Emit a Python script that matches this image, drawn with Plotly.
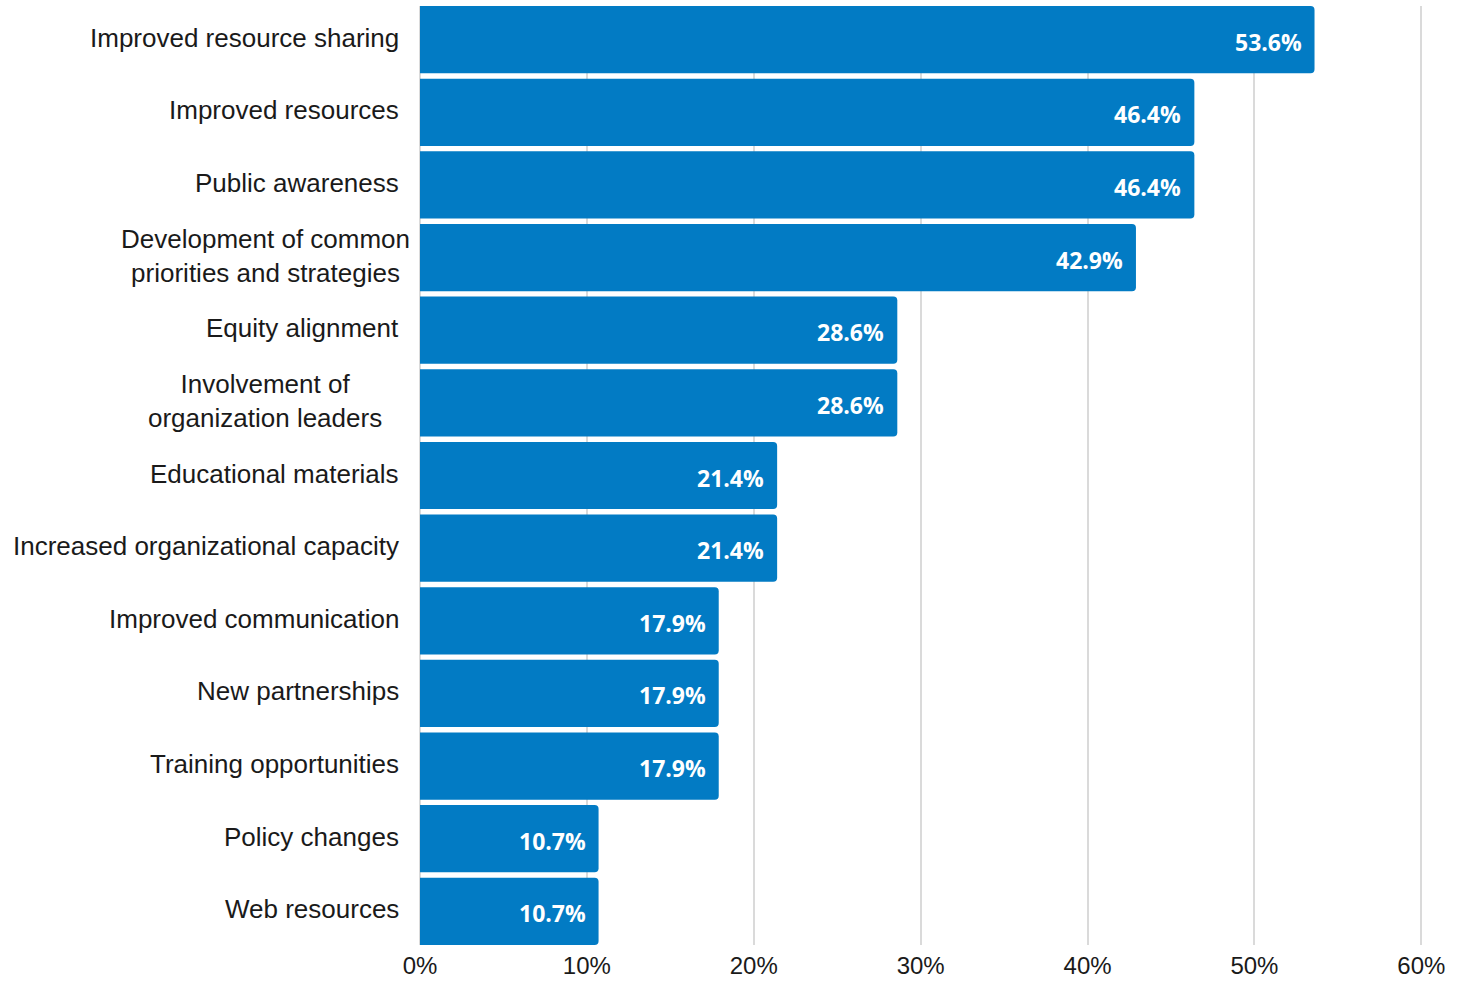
import plotly.graph_objects as go

# Survey results: share of respondents selecting each outcome
categories = [
    "Improved resource sharing",
    "Improved resources",
    "Public awareness",
    "Development of common<br>priorities and strategies",
    "Equity alignment",
    "Involvement of<br>organization leaders",
    "Educational materials",
    "Increased organizational capacity",
    "Improved communication",
    "New partnerships",
    "Training opportunities",
    "Policy changes",
    "Web resources",
]
values = [53.6, 46.4, 46.4, 42.9, 28.6, 28.6, 21.4, 21.4, 17.9, 17.9, 17.9, 10.7, 10.7]
tick_vals = [0, 10, 20, 30, 40, 50, 60]
tick_text = ["0%", "10%", "20%", "30%", "40%", "50%", "60%"]

BAR_COLOR = "#027bc4"
GRID_COLOR = "#dadada"
TEXT_COLOR = "#1a1a1a"
LABEL_FONT = "Liberation Sans, Arial, sans-serif"

fig = go.Figure(
    go.Bar(
        x=values,
        y=list(range(len(categories))),
        orientation="h",
        marker=dict(color=BAR_COLOR, line=dict(width=0)),
        hoverinfo="skip",
    )
)

annotations = []
# Category labels to the left of the plot; wrapped labels are centred
for i, cat in enumerate(categories):
    wrapped = "<br>" in cat
    annotations.append(dict(
        x=0, xref="paper", y=i, yref="y", text=cat, showarrow=False,
        xanchor="center" if wrapped else "right", yanchor="middle",
        align="center" if wrapped else "right",
        xshift=-155 if wrapped else -19, yshift=2,
        font=dict(family=LABEL_FONT, size=26, color=TEXT_COLOR),
    ))

# Value labels inside the end of each bar
for i, v in enumerate(values):
    annotations.append(dict(
        x=v, xref="x", y=i, yref="y", text=f"{v:.1f}%", showarrow=False,
        xanchor="right", yanchor="middle", xshift=-11, yshift=-2,
        font=dict(family="Open Sans, sans-serif", size=23, color="white", weight="bold"),
    ))

fig.update_layout(
    width=1464,
    height=982,
    margin=dict(l=420, r=41, t=6, b=37, autoexpand=False),
    paper_bgcolor="white",
    plot_bgcolor="white",
    bargap=0.075,
    barcornerradius=4,
    showlegend=False,
    annotations=annotations,
    xaxis=dict(
        range=[0, 60.1],
        tickvals=tick_vals,
        ticktext=tick_text,
        showgrid=True,
        gridcolor=GRID_COLOR,
        gridwidth=2,
        zeroline=True,
        zerolinecolor=GRID_COLOR,
        zerolinewidth=2,
        showline=False,
        ticks="",
        automargin=False,
        ticklabelstandoff=4,
        tickfont=dict(family=LABEL_FONT, size=24, color=TEXT_COLOR),
        fixedrange=True,
    ),
    yaxis=dict(
        range=[len(categories) - 0.537, -0.463],
        showticklabels=False,
        showgrid=False,
        zeroline=False,
        ticks="",
        automargin=False,
        fixedrange=True,
    ),
)

fig.write_html("out.html")
